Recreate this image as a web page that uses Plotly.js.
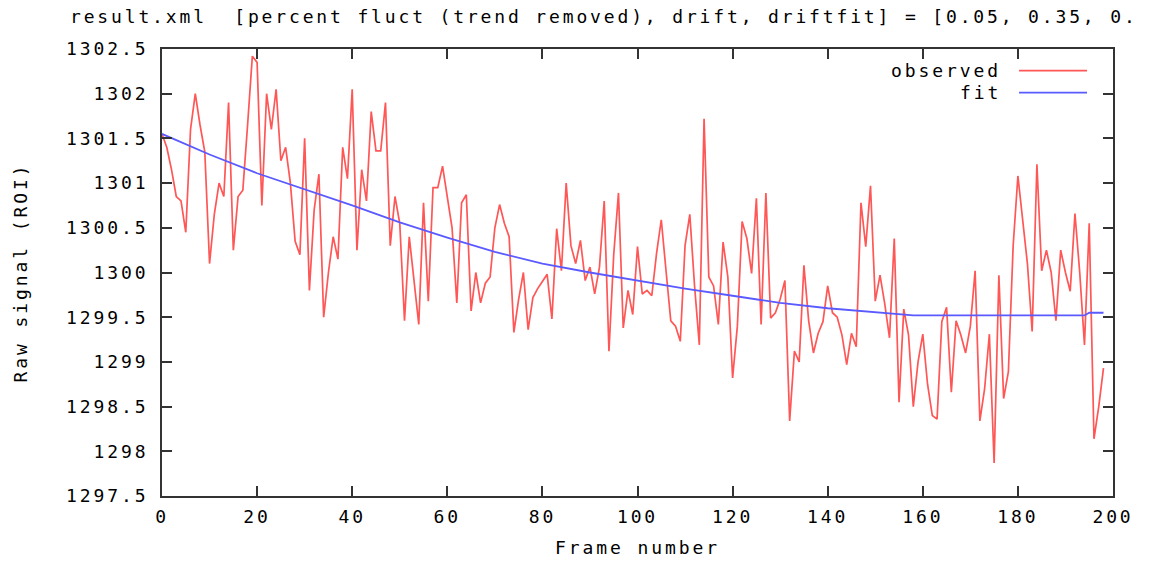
<!DOCTYPE html>
<html>
<head>
<meta charset="utf-8">
<script src="https://cdn.plot.ly/plotly-3.0.1.min.js"></script>
<style>
  html, body { margin: 0; padding: 0; background: #fff; }
  #chart { width: 1160px; height: 565px; }
  text { letter-spacing: 2.9px !important; }
  .gtitle { letter-spacing: 2.85px !important; }
</style>
</head>
<body>
<div id="chart"></div>
<script>
// ---- data ----
const observed = [
  1301.55, 1301.40, 1301.15, 1300.85, 1300.80, 1300.45, 1301.60, 1302.00, 1301.65, 1301.35,
  1300.10, 1300.65, 1301.00, 1300.85, 1301.90, 1300.25, 1300.85, 1300.92, 1301.65, 1302.42,
  1302.35, 1300.75, 1302.00, 1301.60, 1302.05, 1301.25, 1301.40, 1301.00, 1300.35, 1300.20,
  1301.50, 1299.80, 1300.70, 1301.10, 1299.50, 1300.00, 1300.40, 1300.15, 1301.40, 1301.05,
  1302.05, 1300.25, 1301.15, 1300.80, 1301.80, 1301.36, 1301.36, 1301.90, 1300.30, 1300.85,
  1300.55, 1299.46, 1300.40, 1299.90, 1299.42, 1300.78, 1299.68, 1300.95, 1300.95, 1301.19,
  1300.85, 1300.50, 1299.66, 1300.78, 1300.87, 1299.57, 1300.00, 1299.66, 1299.88, 1299.95,
  1300.50, 1300.76, 1300.55, 1300.40, 1299.33, 1299.70, 1300.00, 1299.36, 1299.72, 1299.82,
  1299.90, 1299.98, 1299.48, 1300.49, 1300.02, 1301.00, 1300.30, 1300.10, 1300.36, 1299.91,
  1300.06, 1299.76, 1300.06, 1300.80, 1299.12, 1300.20, 1300.89, 1299.38, 1299.80, 1299.53,
  1300.29, 1299.76, 1299.80, 1299.74, 1300.21, 1300.59, 1300.02, 1299.46, 1299.40, 1299.23,
  1300.30, 1300.65, 1299.85, 1299.19, 1301.72, 1299.95, 1299.85, 1299.42, 1300.34, 1299.95,
  1298.82, 1299.40, 1300.57, 1300.38, 1299.99, 1300.83, 1299.42, 1300.89, 1299.49, 1299.55,
  1299.70, 1299.91, 1298.34, 1299.12, 1299.00, 1300.08, 1299.46, 1299.10, 1299.32, 1299.45,
  1299.85, 1299.55, 1299.50, 1299.30, 1298.97, 1299.32, 1299.17, 1300.78, 1300.29, 1300.97,
  1299.68, 1299.97, 1299.65, 1299.27, 1300.38, 1298.55, 1299.59, 1299.30, 1298.50, 1299.00,
  1299.31, 1298.75, 1298.40, 1298.36, 1299.45, 1299.61, 1298.66, 1299.46, 1299.30, 1299.10,
  1299.40, 1300.02, 1298.34, 1298.70, 1299.31, 1297.87, 1299.97, 1298.59, 1298.89, 1300.30,
  1301.08, 1300.60, 1300.10, 1299.34, 1301.21, 1300.02, 1300.25, 1300.00, 1299.46, 1300.25,
  1300.00, 1299.79, 1300.66, 1300.00, 1299.19, 1300.55, 1298.14, 1298.50, 1298.93
];
const frames = observed.map((_, i) => i);

const fitFrames = [0, 10, 20, 30, 40, 50, 60, 70, 80, 90, 100, 110, 120, 130, 140, 150, 158, 194, 195, 198];
const fitValues = [1301.55, 1301.32, 1301.11, 1300.93, 1300.75, 1300.56, 1300.39, 1300.23, 1300.10, 1300.00,
                   1299.91, 1299.82, 1299.74, 1299.66, 1299.60, 1299.56, 1299.52, 1299.52, 1299.55, 1299.55];

const xTickVals = [0, 20, 40, 60, 80, 100, 120, 140, 160, 180, 200];
const yTickVals = [1297.5, 1298, 1298.5, 1299, 1299.5, 1300, 1300.5, 1301, 1301.5, 1302, 1302.5];
const yTickText = ["1297.5", "1298", "1298.5", "1299", "1299.5", "1300", "1300.5", "1301", "1301.5", "1302", "1302.5"];

const titleText = "result.xml\u00a0\u00a0[percent fluct (trend removed), drift, driftfit] = [0.05, 0.35, 0.";
const seriesNames = ["observed", "fit"];
// ----------------------------------------------

const FONT = "DejaVu Sans Mono, Liberation Mono, monospace";
const RED = "#ff5656";
const BLUE = "#5a5aff";
const TXT = "#000";

const traces = [
  { x: frames, y: observed, type: "scatter", mode: "lines", name: seriesNames[0],
    line: { color: RED, width: 1.7 }, hoverinfo: "x+y" },
  { x: fitFrames, y: fitValues, type: "scatter", mode: "lines", name: seriesNames[1],
    line: { color: BLUE, width: 1.8 }, hoverinfo: "x+y" }
];

const axisCommon = {
  showgrid: false, zeroline: false,
  showline: true, linecolor: "#333", linewidth: 2, mirror: "ticks",
  ticks: "inside", ticklen: 10, tickwidth: 2, tickcolor: "#333",
  tickfont: { family: FONT, size: 18, color: TXT }
};

const layout = {
  width: 1160, height: 565,
  paper_bgcolor: "#fff", plot_bgcolor: "#fff",
  margin: { l: 162, r: 47, t: 49, b: 69, pad: 0 },
  showlegend: false,
  title: { text: titleText, font: { family: FONT, size: 18, color: TXT },
           xref: "container", yref: "container", x: 70 / 1160, xanchor: "left",
           y: 1 - 17 / 565, yanchor: "middle" },
  xaxis: Object.assign({}, axisCommon, {
    range: [0, 200], tickvals: xTickVals, ticklabelstandoff: 3,
    title: { text: "Frame number", font: { family: FONT, size: 18, color: TXT }, standoff: 16 }
  }),
  yaxis: Object.assign({}, axisCommon, {
    range: [1297.5, 1302.5], tickvals: yTickVals, ticktext: yTickText, ticklabelstandoff: 8,
    title: { text: "Raw signal (ROI)", font: { family: FONT, size: 18, color: TXT }, standoff: 34 }
  }),
  annotations: [
    { xref: "paper", yref: "paper", x: 0.8843, y: 0.9515, xanchor: "right", yanchor: "middle",
      text: seriesNames[0], showarrow: false, font: { family: FONT, size: 18, color: TXT } },
    { xref: "paper", yref: "paper", x: 0.8843, y: 0.9022, xanchor: "right", yanchor: "middle",
      text: seriesNames[1], showarrow: false, font: { family: FONT, size: 18, color: TXT } }
  ],
  shapes: [
    { type: "line", xref: "paper", yref: "paper", x0: 0.9012, x1: 0.9727, y0: 0.9515, y1: 0.9515,
      line: { color: RED, width: 1.7 } },
    { type: "line", xref: "paper", yref: "paper", x0: 0.9012, x1: 0.9727, y0: 0.9022, y1: 0.9022,
      line: { color: BLUE, width: 1.8 } }
  ]
};

Plotly.newPlot("chart", traces, layout, { displayModeBar: false });
</script>
</body>
</html>
